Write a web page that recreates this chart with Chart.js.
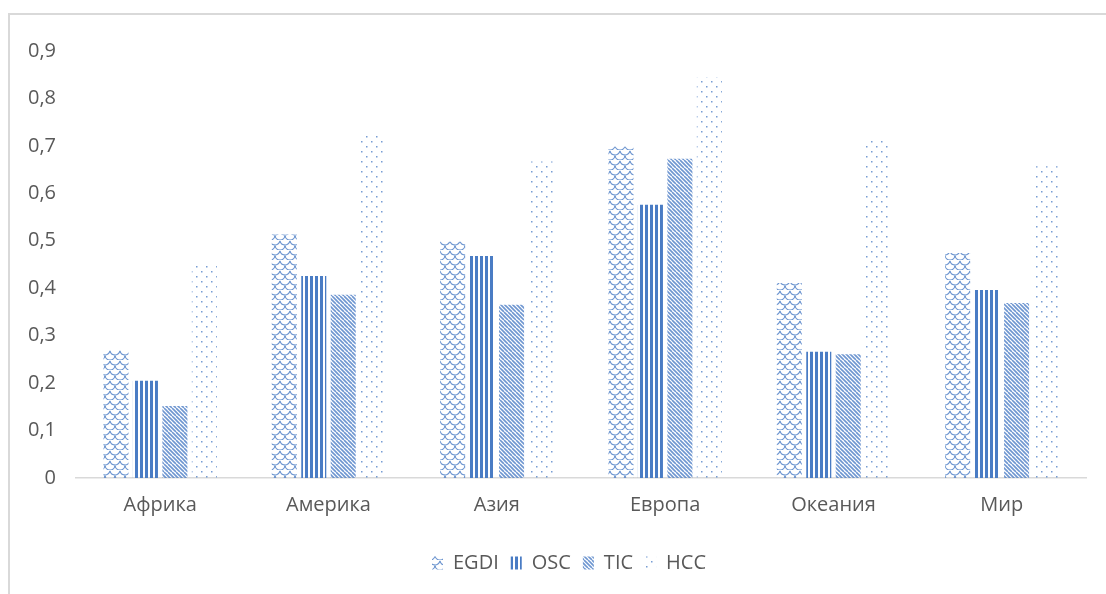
<!DOCTYPE html>
<html>
<head>
<meta charset="utf-8">
<script src="https://cdn.jsdelivr.net/npm/chart.js@4/dist/chart.umd.min.js"></script>
<style>
  html, body { margin: 0; padding: 0; background: #fff; overflow: hidden; }
  #frame { position: absolute; left: 8px; top: 13px; width: 1120px; height: 600px;
           border-left: 2px solid #d9d9d9; border-top: 2px solid #d9d9d9; }
  #c { position: absolute; left: 0; top: 0; }
</style>
</head>
<body>
<div id="frame"></div>
<canvas id="c" width="1106" height="594"></canvas>
<script>
const categories = ['Африка', 'Америка', 'Азия', 'Европа', 'Океания', 'Мир'];
const egdi = [0.270, 0.513, 0.498, 0.698, 0.411, 0.474];
const osc  = [0.205, 0.426, 0.468, 0.576, 0.266, 0.396];
const tic  = [0.152, 0.386, 0.365, 0.673, 0.261, 0.369];
const hcc  = [0.451, 0.722, 0.667, 0.844, 0.713, 0.657];
const yTicks = [0, 0.1, 0.2, 0.3, 0.4, 0.5, 0.6, 0.7, 0.8, 0.9];

const blue = '#4a7cc4';
const canvas = document.getElementById('c');
const ctx = canvas.getContext('2d');

function makePattern(w, h, draw) {
    const c = document.createElement('canvas');
    c.width = w;
    c.height = h;
    const g = c.getContext('2d');
    draw(g);
    return ctx.createPattern(c, 'repeat');
}

// interlocking scales
const egdiPattern = makePattern(10, 10, g => {
    g.strokeStyle = blue;
    g.lineWidth = 1.2;
    g.globalAlpha = 0.8;
    g.beginPath();
    g.arc(5, 0, 5, 0.15, Math.PI - 0.15);
    g.stroke();
    g.beginPath();
    g.arc(0, 5, 5, 0.15, Math.PI / 2);
    g.stroke();
    g.beginPath();
    g.arc(10, 5, 5, Math.PI / 2, Math.PI - 0.15);
    g.stroke();
});

// vertical stripes
const oscPattern = makePattern(5, 5, g => {
    g.fillStyle = blue;
    g.fillRect(0, 0, 3, 5);
});

// diagonal stripes
const ticPattern = makePattern(8, 8, g => {
    g.strokeStyle = blue;
    g.globalAlpha = 0.8;
    g.lineWidth = 1.6;
    for (let k = -8; k <= 16; k += 4) {
        g.beginPath();
        g.moveTo(k, 0);
        g.lineTo(k + 8, 8);
        g.stroke();
    }
});

// sparse dots
const hccPattern = makePattern(10, 10, g => {
    g.fillStyle = blue;
    g.globalAlpha = 0.75;
    g.fillRect(1, 1, 1.5, 1.5);
    g.fillRect(6, 6, 1.5, 1.5);
});

const fontFamily = "'Open Sans', 'Noto Sans', sans-serif";

// nudge the legend a little to the right, like the original
const legendShift = {
    id: 'legendShift',
    afterLayout(chart) {
        if (chart.legend) {
            chart.legend.left += 26;
            chart.legend.right += 26;
        }
    }
};

new Chart(ctx, {
    type: 'bar',
    data: {
        labels: categories,
        datasets: [
            { label: 'EGDI', data: egdi, backgroundColor: egdiPattern },
            { label: 'OSC', data: osc, backgroundColor: oscPattern },
            { label: 'TIC', data: tic, backgroundColor: ticPattern },
            { label: 'HCC', data: hcc, backgroundColor: hccPattern }
        ]
    },
    options: {
        responsive: false,
        animation: false,
        devicePixelRatio: 1,
        categoryPercentage: 0.7,
        barPercentage: 0.85,
        layout: {
            padding: { left: 0, right: 20, top: 51, bottom: 11 }
        },
        scales: {
            x: {
                grid: { display: false, drawTicks: false },
                border: { display: true, color: '#d9d9d9', width: 1.5 },
                ticks: {
                    color: '#595959',
                    font: { family: fontFamily, size: 20 },
                    padding: 15
                },
                afterFit: axis => { axis.height = 63; }
            },
            y: {
                min: 0,
                max: 0.9,
                afterBuildTicks: axis => {
                    axis.ticks = yTicks.map(v => ({ value: v }));
                },
                grid: { display: false, drawTicks: false },
                border: { display: false },
                ticks: {
                    color: '#595959',
                    font: { family: fontFamily, size: 20 },
                    padding: 20,
                    callback: v => v === 0 ? '0' : v.toFixed(1).replace('.', ',')
                },
                afterFit: axis => { axis.width = 76; }
            }
        },
        plugins: {
            tooltip: { enabled: false },
            legend: {
                display: true,
                position: 'bottom',
                labels: {
                    color: '#595959',
                    font: { family: fontFamily, size: 20 },
                    boxWidth: 11,
                    boxHeight: 13,
                    padding: 12
                }
            }
        }
    },
    plugins: [legendShift]
});
</script>
</body>
</html>
